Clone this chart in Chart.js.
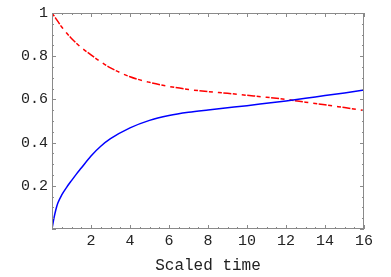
<!DOCTYPE html>
<html>
<head>
<meta charset="utf-8">
<script src="https://cdn.jsdelivr.net/npm/chart.js@4"></script>
<style>
  html, body { margin: 0; padding: 0; background: #fff; }
  #wrap { width: 391px; height: 277px; }
</style>
</head>
<body>
<div id="wrap"><canvas id="plot"></canvas></div>
<script>
// values
const times = [0, 0.05, 0.1, 0.2, 0.3, 0.5, 0.75, 1, 1.25, 1.5, 2, 2.5, 3, 4, 5, 6, 7, 8, 9, 10, 11, 12, 13, 14, 15, 16];
const blueValues = [0, 0.026, 0.05, 0.09, 0.12, 0.158, 0.193, 0.224, 0.254, 0.282, 0.338, 0.383, 0.418, 0.468, 0.503, 0.525, 0.54, 0.551, 0.561, 0.571, 0.582, 0.593, 0.605, 0.618, 0.63, 0.643];
const redValues = [1, 0.993, 0.987, 0.974, 0.961, 0.935, 0.907, 0.882, 0.86, 0.84, 0.806, 0.774, 0.746, 0.705, 0.679, 0.66, 0.646, 0.636, 0.628, 0.619, 0.61, 0.6, 0.587, 0.575, 0.562, 0.549];
const xTitle = 'Scaled time';

const frameColor = '#8a8a8a';

// frame with inward ticks on all four sides
const framePlugin = {
    id: 'frame',
    afterDatasetsDraw(chart) {
        const ctx = chart.ctx;
        const a = chart.chartArea;
        const xs = chart.scales.x;
        const ys = chart.scales.y;
        ctx.save();
        ctx.strokeStyle = frameColor;
        ctx.lineWidth = 1;
        ctx.strokeRect(a.left + 0.5, a.top + 0.5, a.right - a.left - 1, a.bottom - a.top - 1);
        ctx.beginPath();
        for (let i = 0; i <= 32; i++) {
            const v = i * 0.5;
            const px = Math.round(xs.getPixelForValue(v)) + 0.5;
            const len = (i % 4 === 0) ? 4 : 2;
            ctx.moveTo(px, a.bottom);
            ctx.lineTo(px, a.bottom - len);
            ctx.moveTo(px, a.top);
            ctx.lineTo(px, a.top + len);
        }
        for (let i = 0; i <= 20; i++) {
            const v = i * 0.05;
            const py = Math.round(ys.getPixelForValue(v)) + 0.5;
            const len = (i % 4 === 0) ? 4 : 2;
            ctx.moveTo(a.left, py);
            ctx.lineTo(a.left + len, py);
            ctx.moveTo(a.right, py);
            ctx.lineTo(a.right - len, py);
        }
        ctx.stroke();
        ctx.restore();
    }
};

const ctx = document.getElementById('plot').getContext('2d');
window.myChart = new Chart(ctx, {
    type: 'line',
    data: {
        datasets: [{
            label: 'blue',
            data: times.map((t, i) => ({ x: t, y: blueValues[i] })),
            borderColor: '#0000ff',
            borderWidth: 1.5,
            pointRadius: 0,
            fill: false,
            cubicInterpolationMode: 'monotone'
        }, {
            label: 'red',
            data: times.map((t, i) => ({ x: t, y: redValues[i] })),
            borderColor: '#ff0000',
            borderWidth: 1.5,
            borderDash: [4, 1.5, 8, 1.5, 4, 5],
            pointRadius: 0,
            fill: false,
            cubicInterpolationMode: 'monotone'
        }]
    },
    options: {
        responsive: true,
        maintainAspectRatio: false,
        animation: false,
        layout: { padding: { left: 0, right: 27, top: 9, bottom: 0 } },
        plugins: {
            legend: { display: false },
            tooltip: { enabled: false }
        },
        scales: {
            x: {
                type: 'linear',
                min: 0,
                max: 16,
                grid: { display: false, drawTicks: false },
                border: { display: false },
                ticks: {
                    stepSize: 2,
                    padding: 3,
                    maxRotation: 0,
                    color: '#222',
                    font: { family: 'Liberation Mono', size: 15 },
                    callback: v => v === 0 ? '' : String(v)
                },
                title: {
                    display: true,
                    text: xTitle,
                    color: '#222',
                    padding: { top: 3, bottom: 2 },
                    font: { family: 'Liberation Mono', size: 16 }
                },
                afterFit: s => { s.height = 48; }
            },
            y: {
                type: 'linear',
                min: 0,
                max: 1,
                grid: { display: false, drawTicks: false },
                border: { display: false },
                ticks: {
                    stepSize: 0.2,
                    padding: 4,
                    color: '#222',
                    font: { family: 'Liberation Mono', size: 15 },
                    callback: v => v === 0 ? '' : String(Math.round(v * 10) / 10)
                },
                afterFit: s => { s.width = 52; }
            }
        }
    },
    plugins: [framePlugin]
});
</script>
</body>
</html>
